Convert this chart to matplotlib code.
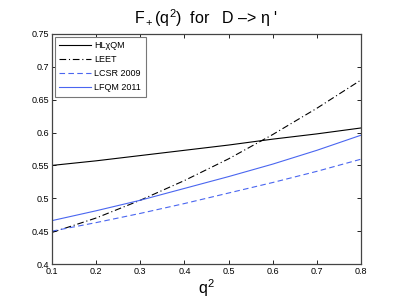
import matplotlib
matplotlib.use("Agg")
import matplotlib.pyplot as plt

plt.rcParams["font.family"] = ["Liberation Sans", "DejaVu Sans"]
plt.rcParams["mathtext.fontset"] = "custom"
plt.rcParams["mathtext.rm"] = "Liberation Sans"
plt.rcParams["mathtext.it"] = "Liberation Sans:italic"

q2 = [0.1, 0.2, 0.3, 0.4, 0.5, 0.6, 0.7, 0.8]
hlxqm = [0.550, 0.557, 0.565, 0.573, 0.581, 0.590, 0.598, 0.607]
leet = [0.448, 0.470, 0.497, 0.527, 0.560, 0.597, 0.637, 0.680]
lcsr = [0.450, 0.463, 0.477, 0.492, 0.508, 0.524, 0.541, 0.5595]
lfqm = [0.466, 0.481, 0.497, 0.515, 0.533, 0.552, 0.573, 0.596]

xticks = [0.1, 0.2, 0.3, 0.4, 0.5, 0.6, 0.7, 0.8]
yticks = [0.4, 0.45, 0.5, 0.55, 0.6, 0.65, 0.7, 0.75]
ytick_labels = ["0.4", "0.45", "0.5", "0.55", "0.6", "0.65", "0.7", "0.75"]

blue = "#4a66f0"

fig = plt.figure(figsize=(3.99, 3.0), dpi=100)
ax = fig.add_axes([0.1303, 0.12, 0.7745, 0.7667])

ax.plot(q2, hlxqm, color="black", lw=0.8, label="HLχQM")
ax.plot(q2, leet, color="black", lw=0.8, ls=(0, (6, 2.5, 1, 2.5)), label="LEET")
ax.plot(q2, lcsr, color=blue, lw=0.8, ls=(0, (5, 3)), label="LCSR 2009")
ax.plot(q2, lfqm, color=blue, lw=0.8, label="LFQM 2011")

ax.set_xlim(0.1, 0.8)
ax.set_ylim(0.4, 0.75)
ax.set_xticks(xticks)
ax.set_xticklabels([str(t) for t in xticks])
ax.set_yticks(yticks)
ax.set_yticklabels(ytick_labels)
ax.tick_params(direction="in", top=True, right=True, labelsize=6.5,
               length=3, width=0.6, pad=2)
for s in ax.spines.values():
    s.set_linewidth(0.9)
    s.set_color("#444444")

leg = ax.legend(loc="upper left", fontsize=6.5, fancybox=False,
                framealpha=1, edgecolor="#777777", handlelength=3.5,
                borderpad=0.5, labelspacing=0.55, handletextpad=0.4,
                borderaxespad=0.3)
leg.get_frame().set_linewidth(0.8)

ax.set_title(r"F$_+$(q$^2$)  for   D –> η '", fontsize=11.5, pad=7)
ax.set_xlabel(r"q$^2$", fontsize=11.5, labelpad=1)

fig.savefig("out.png", dpi=100)
